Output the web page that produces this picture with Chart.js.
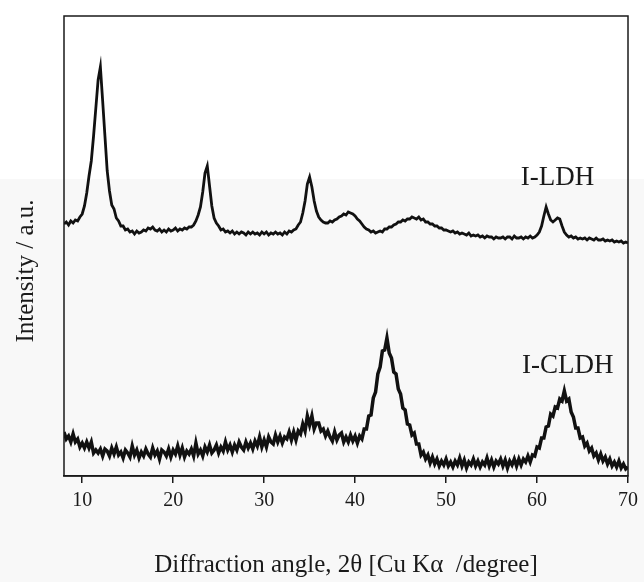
<!DOCTYPE html>
<html>
<head>
<meta charset="utf-8">
<title>XRD I-LDH / I-CLDH</title>
<script src="https://cdn.jsdelivr.net/npm/chart.js@4.4.0/dist/chart.umd.min.js"></script>
<style>
  html, body { margin: 0; padding: 0; }
  body { width: 644px; height: 582px; background: linear-gradient(#ffffff 0, #ffffff 179px, #f8f8f8 179px); }
</style>
</head>
<body>
<canvas id="xrd" width="644" height="582"></canvas>
<script>
// 2theta sampling (degree), one row per degree
var angles = [
  8, 8.25, 8.5, 8.75, 9, 9.25, 9.5, 9.75, 10, 10.25, 10.5, 10.75,
  11, 11.25, 11.5, 11.75, 12, 12.25, 12.5, 12.75, 13, 13.25, 13.5, 13.75,
  14, 14.25, 14.5, 14.75, 15, 15.25, 15.5, 15.75, 16, 16.25, 16.5, 16.75,
  17, 17.25, 17.5, 17.75, 18, 18.25, 18.5, 18.75, 19, 19.25, 19.5, 19.75,
  20, 20.25, 20.5, 20.75, 21, 21.25, 21.5, 21.75, 22, 22.25, 22.5, 22.75,
  23, 23.25, 23.5, 23.75, 24, 24.25, 24.5, 24.75, 25, 25.25, 25.5, 25.75,
  26, 26.25, 26.5, 26.75, 27, 27.25, 27.5, 27.75, 28, 28.25, 28.5, 28.75,
  29, 29.25, 29.5, 29.75, 30, 30.25, 30.5, 30.75, 31, 31.25, 31.5, 31.75,
  32, 32.25, 32.5, 32.75, 33, 33.25, 33.5, 33.75, 34, 34.25, 34.5, 34.75,
  35, 35.25, 35.5, 35.75, 36, 36.25, 36.5, 36.75, 37, 37.25, 37.5, 37.75,
  38, 38.25, 38.5, 38.75, 39, 39.25, 39.5, 39.75, 40, 40.25, 40.5, 40.75,
  41, 41.25, 41.5, 41.75, 42, 42.25, 42.5, 42.75, 43, 43.25, 43.5, 43.75,
  44, 44.25, 44.5, 44.75, 45, 45.25, 45.5, 45.75, 46, 46.25, 46.5, 46.75,
  47, 47.25, 47.5, 47.75, 48, 48.25, 48.5, 48.75, 49, 49.25, 49.5, 49.75,
  50, 50.25, 50.5, 50.75, 51, 51.25, 51.5, 51.75, 52, 52.25, 52.5, 52.75,
  53, 53.25, 53.5, 53.75, 54, 54.25, 54.5, 54.75, 55, 55.25, 55.5, 55.75,
  56, 56.25, 56.5, 56.75, 57, 57.25, 57.5, 57.75, 58, 58.25, 58.5, 58.75,
  59, 59.25, 59.5, 59.75, 60, 60.25, 60.5, 60.75, 61, 61.25, 61.5, 61.75,
  62, 62.25, 62.5, 62.75, 63, 63.25, 63.5, 63.75, 64, 64.25, 64.5, 64.75,
  65, 65.25, 65.5, 65.75, 66, 66.25, 66.5, 66.75, 67, 67.25, 67.5, 67.75,
  68, 68.25, 68.5, 68.75, 69, 69.25, 69.5, 69.75, 70
];

// I-LDH intensity (a.u., offset upwards)
var ldh = [
  248, 250, 247, 251, 249, 252, 251, 255, 258, 266, 279, 296,
  311, 336, 364, 392, 405, 371, 336, 301, 281, 267, 263, 254,
  251, 246, 246, 242, 243, 240, 241, 238, 241, 239, 240, 242,
  241, 244, 243, 245, 242, 241, 243, 240, 242, 240, 243, 241,
  242, 244, 241, 243, 242, 244, 243, 245, 245, 247, 251, 257,
  265, 280, 299, 306, 286, 266, 254, 249, 246, 242, 243, 240,
  241, 239, 241, 238, 240, 238, 240, 239, 237, 240, 238, 240,
  238, 239, 237, 240, 238, 240, 237, 239, 238, 240, 238, 239,
  237, 240, 238, 241, 240, 242, 243, 247, 250, 259, 271, 288,
  295, 285, 271, 261, 255, 252, 250, 249, 249, 251, 250, 252,
  253, 255, 256, 258, 257, 260, 259, 258, 256, 253, 251, 248,
  245, 243, 242, 240, 241, 239, 240, 241, 240, 243, 243, 245,
  245, 247, 248, 250, 250, 252, 251, 253, 253, 255, 254, 253,
  255, 252, 253, 250, 250, 248, 248, 246, 246, 244, 244, 242,
  242, 241, 240, 241, 239, 240, 238, 239, 238, 237, 239, 236,
  237, 236, 237, 235, 236, 234, 236, 235, 235, 233, 235, 234,
  234, 235, 233, 235, 235, 233, 236, 234, 234, 235, 233, 235,
  234, 236, 234, 235, 237, 240, 246, 256, 265, 258, 252, 250,
  252, 254, 253, 246, 240, 237, 235, 236, 234, 235, 233, 234,
  233, 234, 232, 234, 233, 232, 234, 232, 232, 233, 231, 232,
  231, 232, 230, 231, 230, 231, 229, 230, 229
];

// I-CLDH intensity (a.u.), noisy trace
var cldh = [
  40, 33, 36, 30, 38, 30, 33, 25, 29, 24, 30, 24,
  30, 19, 22, 19, 23, 16, 23, 21, 16, 24, 18, 25,
  17, 20, 14, 22, 19, 15, 26, 17, 22, 14, 20, 16,
  23, 18, 15, 24, 17, 21, 13, 22, 20, 16, 23, 15,
  22, 18, 26, 17, 24, 15, 21, 18, 23, 16, 29, 18,
  22, 16, 25, 20, 27, 19, 22, 27, 19, 25, 21, 30,
  22, 27, 20, 27, 22, 30, 25, 22, 30, 24, 29, 23,
  31, 26, 35, 25, 32, 25, 35, 30, 28, 37, 30, 36,
  29, 35, 33, 40, 32, 40, 32, 41, 38, 48, 41, 56,
  47, 56, 43, 49, 49, 41, 43, 36, 41, 35, 31, 40,
  32, 37, 39, 30, 35, 30, 37, 31, 36, 29, 36, 33,
  43, 43, 56, 57, 74, 80, 98, 105, 121, 122, 134, 119,
  114, 100, 98, 83, 78, 64, 62, 48, 47, 37, 39, 28,
  28, 17, 20, 13, 17, 9, 15, 8, 13, 6, 11, 7,
  13, 6, 10, 5, 11, 7, 14, 6, 12, 4, 10, 7,
  13, 6, 11, 5, 10, 7, 14, 6, 12, 5, 11, 8,
  13, 6, 12, 4, 11, 7, 13, 6, 13, 7, 13, 10,
  16, 10, 17, 16, 25, 24, 34, 34, 45, 46, 58, 56,
  65, 64, 73, 71, 81, 71, 73, 60, 55, 44, 44, 34,
  35, 26, 29, 21, 24, 16, 19, 12, 18, 11, 15, 8,
  13, 6, 10, 5, 11, 4, 8, 3, 5
];

var xTicks = [10, 20, 30, 40, 50, 60, 70];
var seriesNames = ["I-LDH", "I-CLDH"];

function toPoints(ys) {
  return ys.map(function (y, i) { return { x: angles[i], y: y }; });
}

// frame, y title and the two trace names
var decor = {
  id: "decor",
  afterDraw: function (chart, args, opts) {
    var ctx = chart.ctx;
    var a = chart.chartArea;
    var xs = chart.scales.x, ys = chart.scales.y;
    ctx.save();
    ctx.strokeStyle = "#1a1a1a";
    ctx.lineWidth = 1.5;
    ctx.strokeRect(a.left, a.top, a.right - a.left, a.bottom - a.top);

    ctx.fillStyle = "#1a1a1a";
    ctx.font = "27px 'Liberation Serif', serif";
    ctx.textAlign = "right";
    ctx.textBaseline = "alphabetic";
    opts.labels.forEach(function (l) {
      ctx.fillText(l.text, xs.getPixelForValue(l.x), ys.getPixelForValue(l.y));
    });

    ctx.font = "25px 'Liberation Serif', serif";
    ctx.textAlign = "center";
    ctx.textBaseline = "middle";
    ctx.translate(26, 271);
    ctx.rotate(-Math.PI / 2);
    ctx.fillText("Intensity / a.u.", 0, 0);
    ctx.restore();
  }
};

new Chart(document.getElementById("xrd"), {
  type: "line",
  data: {
    datasets: [{
      label: seriesNames[0],
      data: toPoints(ldh),
      borderColor: "#111111",
      borderWidth: 2.8,
      pointRadius: 0,
      tension: 0
    }, {
      label: seriesNames[1],
      data: toPoints(cldh),
      borderColor: "#111111",
      borderWidth: 3.5,
      pointRadius: 0,
      tension: 0
    }]
  },
  options: {
    responsive: false,
    animation: false,
    layout: { padding: { left: 64, top: 16, right: 13, bottom: 0 } },
    plugins: {
      legend: { display: false },
      tooltip: { enabled: false },
      decor: {
        labels: [
          { text: seriesNames[0], x: 66.3, y: 287 },
          { text: seriesNames[1], x: 68.4, y: 99 }
        ]
      }
    },
    scales: {
      x: {
        type: "linear",
        min: 8,
        max: 70,
        afterBuildTicks: function (scale) {
          scale.ticks = xTicks.map(function (v) { return { value: v }; });
        },
        afterFit: function (scale) { scale.height = 106; },
        grid: { drawOnChartArea: false, drawTicks: true, tickLength: 7, color: "#1a1a1a", lineWidth: 1.5 },
        border: { display: true, color: "#1a1a1a", width: 1.5 },
        ticks: {
          color: "#1a1a1a",
          padding: 6,
          maxRotation: 0,
          font: { family: "'Liberation Serif', serif", size: 20 }
        },
        title: {
          display: true,
          text: "Diffraction angle, 2\u03b8 [Cu K\u03b1  /degree]",
          color: "#1a1a1a",
          padding: { top: 0, bottom: 2 },
          font: { family: "'Liberation Serif', serif", size: 25 }
        }
      },
      y: {
        display: false,
        min: -4,
        max: 456
      }
    }
  },
  plugins: [decor]
});
</script>
</body>
</html>
